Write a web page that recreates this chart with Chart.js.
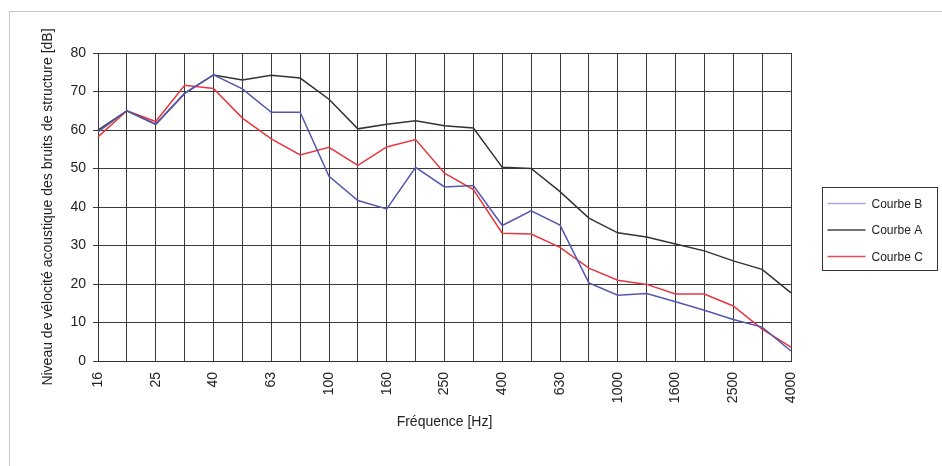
<!DOCTYPE html>
<html>
<head>
<meta charset="utf-8">
<script src="https://cdn.jsdelivr.net/npm/chart.js@4.4.1/dist/chart.umd.min.js"></script>
<style>
  html, body { margin: 0; padding: 0; background: #fff; }
  #wrap { width: 942px; height: 466px; position: relative; }
</style>
</head>
<body>
<div id="wrap"><canvas id="chart"></canvas></div>
<script>
// 1/3 octave bands
const frequencies = ['16', '20', '25', '31.5', '40', '50', '63', '80', '100', '125', '160', '200', '250',
    '315', '400', '500', '630', '800', '1000', '1250', '1600', '2000', '2500', '3150', '4000'];

const courbeB = [59.5, 65, 61.5, 69.5, 74.3, 70.7, 64.6, 64.6, 48, 41.7, 39.5, 50.3, 45.2,
    45.6, 35.2, 39, 35.3, 20.3, 17.1, 17.5, 15.4, 13.2, 10.8, 8.8, 2.6];
const courbeA = [60, 65, 61.5, 69.5, 74.3, 73, 74.2, 73.5, 68, 60.3, 61.5, 62.4, 61.1,
    60.5, 50.3, 50, 44, 37.1, 33.3, 32.2, 30.4, 28.6, 26, 23.8, 17.7];
const courbeC = [58.2, 65, 62.2, 71.6, 70.8, 63.1, 57.7, 53.5, 55.5, 50.8, 55.6, 57.5, 48.8,
    44.5, 33.2, 33, 29.5, 24.1, 21, 19.9, 17.4, 17.4, 14.3, 8.3, 3.6];

const yTicks = [0, 10, 20, 30, 40, 50, 60, 70, 80];

const FONT = "'Liberation Sans', Arial, sans-serif";
const gridColor = '#3a3a3a';

// light frame + boxed legend, like the spreadsheet export
const frameLegend = {
    id: 'frameLegend',
    beforeDraw(chart) {
        const ctx = chart.ctx;
        ctx.save();
        ctx.fillStyle = '#fff';
        ctx.fillRect(0, 0, chart.width, chart.height);
        ctx.strokeStyle = '#c8c8c8';
        ctx.lineWidth = 1;
        ctx.strokeRect(9.5, 11.5, 1000, 1000);
        ctx.restore();
    },
    afterDraw(chart) {
        const ctx = chart.ctx;
        const bx = chart.chartArea.right + 31.5, by = 187.5, bw = 115, bh = 83;
        ctx.save();
        ctx.strokeStyle = '#333';
        ctx.lineWidth = 1;
        ctx.strokeRect(bx, by, bw, bh);
        ctx.font = '12px ' + FONT;
        ctx.textBaseline = 'middle';
        ctx.fillStyle = '#222';
        chart.data.datasets.forEach((ds, i) => {
            const y = by + 16 + i * 26.5;
            ctx.strokeStyle = ds.legendColor;
            ctx.lineWidth = 1.5;
            ctx.beginPath();
            ctx.moveTo(bx + 5, y);
            ctx.lineTo(bx + 43, y);
            ctx.stroke();
            ctx.fillText(ds.label, bx + 49, y + 1);
        });
        ctx.restore();
    }
};

var ctx = document.getElementById('chart').getContext('2d');
var myChart = new Chart(ctx, {
    type: 'line',
    data: {
        labels: frequencies,
        datasets: [
            {
                label: 'Courbe B',
                data: courbeB,
                borderColor: '#5457b0',
                legendColor: '#a8aadf',
                borderWidth: 1.5,
                pointRadius: 0,
                tension: 0,
            },
            {
                label: 'Courbe A',
                data: courbeA,
                borderColor: '#333333',
                legendColor: '#444444',
                borderWidth: 1.5,
                pointRadius: 0,
                tension: 0,
            },
            {
                label: 'Courbe C',
                data: courbeC,
                borderColor: '#e8363f',
                legendColor: '#e05058',
                borderWidth: 1.5,
                pointRadius: 0,
                tension: 0,
            },
        ]
    },
    options: {
        responsive: true,
        maintainAspectRatio: false,
        animation: false,
        layout: {
            padding: { left: 36, top: 53, right: 151, bottom: 31 }
        },
        scales: {
            x: {
                offset: false,
                afterFit(scale) { scale.height = 74; },
                ticks: {
                    autoSkip: false,
                    minRotation: 90,
                    maxRotation: 90,
                    padding: 11,
                    color: '#222',
                    font: { size: 14, family: FONT },
                    callback: function (value, index) {
                        return index % 2 === 0 ? frequencies[index] : '';
                    }
                },
                grid: {
                    display: true,
                    color: gridColor,
                    drawTicks: false,
                    lineWidth: 1,
                },
                border: { display: true, color: '#333', width: 1 },
                title: {
                    display: true,
                    text: 'Fréquence [Hz]',
                    color: '#222',
                    font: { size: 14, family: FONT },
                    padding: { top: 4, bottom: 4 }
                }
            },
            y: {
                min: 0,
                max: 80,
                afterFit(scale) { scale.width = 62; },
                afterBuildTicks(scale) { scale.ticks = yTicks.map(v => ({ value: v })); },
                ticks: {
                    padding: 7,
                    color: '#222',
                    font: { size: 14, family: FONT },
                },
                grid: {
                    color: gridColor,
                    tickLength: 5,
                    lineWidth: 1,
                },
                border: { display: true, color: '#333', width: 1 },
                title: {
                    display: true,
                    text: 'Niveau de vélocité acoustique des bruits de structure [dB]',
                    color: '#222',
                    font: { size: 14, family: FONT },
                    padding: { top: 4, bottom: 4 }
                }
            },
        },
        plugins: {
            legend: { display: false },
            tooltip: { enabled: false }
        }
    },
    plugins: [frameLegend]
});
</script>
</body>
</html>
